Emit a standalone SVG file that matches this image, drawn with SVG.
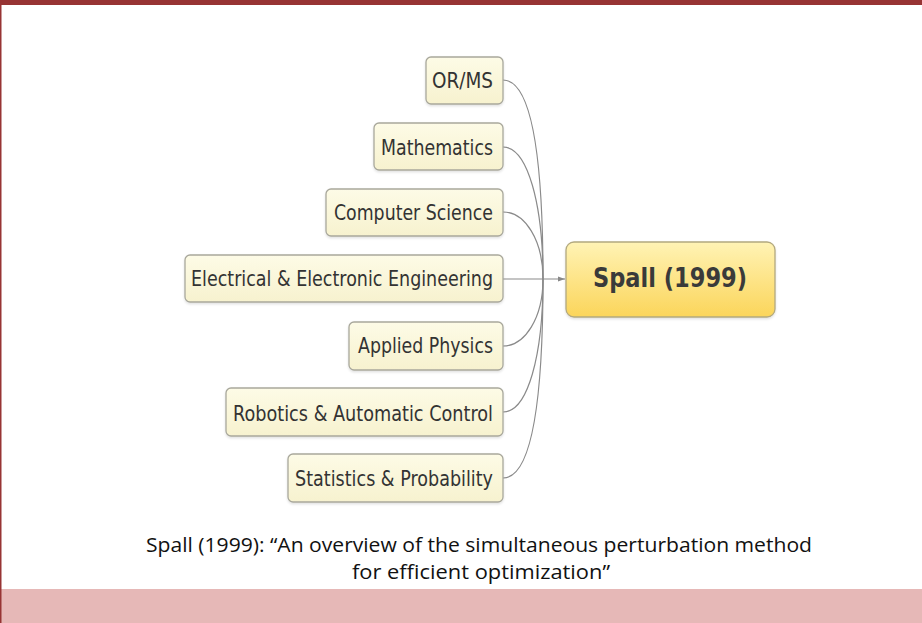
<svg xmlns="http://www.w3.org/2000/svg" width="922" height="623" viewBox="0 0 922 623">
<defs>
<linearGradient id="nodeFill" x1="0" y1="0" x2="0" y2="1">
<stop offset="0" stop-color="#fdfbe6"/>
<stop offset="1" stop-color="#f7f2cf"/>
</linearGradient>
<linearGradient id="rootFill" x1="0" y1="0" x2="0" y2="1">
<stop offset="0" stop-color="#fff3b5"/>
<stop offset="1" stop-color="#fbd55a"/>
</linearGradient>
<marker id="arrow" markerWidth="8" markerHeight="8" refX="7" refY="4" orient="auto" markerUnits="userSpaceOnUse">
<path d="M0,1.5 L7,4 L0,6.5 Z" fill="#888"/>
</marker>
<filter id="shadow" x="-5%" y="-10%" width="110%" height="130%">
<feDropShadow dx="0" dy="1.5" stdDeviation="1.2" flood-color="#000" flood-opacity="0.12"/>
</filter>
</defs>
<style>
.node rect{fill:url(#nodeFill);stroke:#a9a89c;stroke-width:1.3;filter:url(#shadow)}
.node text{font-family:"DejaVu Sans",sans-serif;font-size:22px;fill:#333;text-anchor:end}
.root rect{fill:url(#rootFill);stroke:#b3a97f;stroke-width:1.3;filter:url(#shadow)}
.root text{font-family:"DejaVu Sans",sans-serif;font-size:27px;font-weight:bold;fill:#3a3a3a}
.conn path{fill:none;stroke:#8a8a8a;stroke-width:1.2}
.caption{font-family:"Open Sans",sans-serif;font-size:20px;fill:#111;text-anchor:middle}
</style>
<rect x="0" y="0" width="922" height="623" fill="#fff"/>
<rect x="0" y="0" width="922" height="5" fill="#973434"/>
<rect x="0" y="589" width="922" height="34" fill="#e6b8b7"/>
<rect x="0" y="0" width="1.5" height="623" fill="#973434"/>

<g id="connectors" class="conn">
<path d="M503,80 C530,80 543,150 543,279"/>
<path d="M503,147 C528,147 543,205 543,279"/>
<path d="M503,212 C525,212 543,240 543,279"/>
<path d="M503,346 C525,346 543,318 543,279"/>
<path d="M503,412 C528,412 543,355 543,279"/>
<path d="M503,478 C530,478 543,410 543,279"/>
<path d="M503,279 L565,279" marker-end="url(#arrow)"/>
</g>

<g id="n-orms" class="node">
<rect x="426" y="57" width="77" height="47" rx="5"/>
<text x="493" y="88" textLength="61" lengthAdjust="spacingAndGlyphs">OR/MS</text>
</g>
<g id="n-math" class="node">
<rect x="374" y="123" width="129" height="47" rx="5"/>
<text x="493" y="155" textLength="112" lengthAdjust="spacingAndGlyphs">Mathematics</text>
</g>
<g id="n-cs" class="node">
<rect x="326" y="189" width="177" height="47" rx="5"/>
<text x="493" y="220" textLength="159" lengthAdjust="spacingAndGlyphs">Computer Science</text>
</g>
<g id="n-eee" class="node">
<rect x="185" y="255" width="318" height="47" rx="5"/>
<text x="493" y="286" textLength="302" lengthAdjust="spacingAndGlyphs">Electrical &amp; Electronic Engineering</text>
</g>
<g id="n-phys" class="node">
<rect x="349" y="322" width="154" height="48" rx="5"/>
<text x="493" y="353" textLength="135" lengthAdjust="spacingAndGlyphs">Applied Physics</text>
</g>
<g id="n-robot" class="node">
<rect x="226" y="388" width="277" height="48" rx="5"/>
<text x="493" y="421" textLength="260" lengthAdjust="spacingAndGlyphs">Robotics &amp; Automatic Control</text>
</g>
<g id="n-stat" class="node">
<rect x="288" y="454" width="215" height="48" rx="5"/>
<text x="493" y="486" textLength="198" lengthAdjust="spacingAndGlyphs">Statistics &amp; Probability</text>
</g>
<g id="n-spall" class="root">
<rect x="566" y="242" width="209" height="75" rx="8"/>
<text x="593" y="287" textLength="154" lengthAdjust="spacingAndGlyphs">Spall (1999)</text>
</g>

<text class="caption" x="479" y="552" textLength="666" lengthAdjust="spacingAndGlyphs">Spall (1999): “An overview of the simultaneous perturbation method</text>
<text class="caption" x="481" y="579" textLength="258" lengthAdjust="spacingAndGlyphs">for efficient optimization”</text>
</svg>
